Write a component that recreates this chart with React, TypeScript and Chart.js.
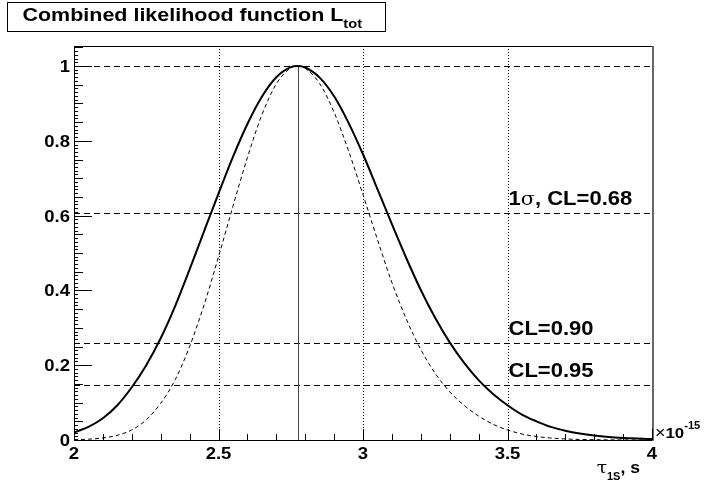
import React, { useEffect, useRef } from "react";
import { Chart, registerables } from "chart.js";

Chart.register(...registerables);

// ---- data ----
const tauValues = [
  2.0, 2.05, 2.1, 2.15, 2.2, 2.25, 2.3, 2.35, 2.4, 2.45, 2.5, 2.55, 2.6, 2.65, 2.7, 2.75,
  2.774,
  2.8, 2.85, 2.9, 2.95, 3.0, 3.05, 3.1, 3.15, 3.2, 3.25, 3.3, 3.35, 3.4, 3.45, 3.5, 3.55,
  3.6, 3.65, 3.7, 3.75, 3.8, 3.85, 3.9, 3.95, 4.0,
];
const combinedL = [
  0.02, 0.035, 0.058, 0.093, 0.141, 0.2, 0.272, 0.358, 0.456, 0.558, 0.659, 0.757, 0.845, 0.918, 0.97, 0.997,
  1.0,
  0.996, 0.969, 0.919, 0.848, 0.764, 0.671, 0.577, 0.486, 0.401, 0.326, 0.261, 0.206, 0.16, 0.123, 0.093, 0.068,
  0.05, 0.035, 0.025, 0.0175, 0.012, 0.0081, 0.0055, 0.0037, 0.0024,
];
const singleL = [
  0.001, 0.0022, 0.0055, 0.0126, 0.027, 0.054, 0.098, 0.161, 0.25, 0.361, 0.49, 0.625, 0.755, 0.869, 0.952, 0.995,
  1.0,
  0.994, 0.953, 0.876, 0.773, 0.656, 0.536, 0.421, 0.323, 0.242, 0.178, 0.129, 0.0925, 0.064, 0.042, 0.027, 0.016,
  0.0093, 0.0052, 0.0028, 0.0015, 0.0008, 0.0004, 0.0002, 0.0001, 0.00005,
];
const peakTau = 2.774;
const levelValues = [1.0, 0.6065, 0.2585, 0.1465];
const levelLabels = ["", "CL=0.68", "CL=0.90", "CL=0.95"];
const levelLabelX = 3.5;
const xTickValues = [2, 2.5, 3, 3.5, 4];
const xTickLabels = ["2", "2.5", "3", "3.5", "4"];
const yTickValues = [0, 0.2, 0.4, 0.6, 0.8, 1];
const yTickLabels = ["0", "0.2", "0.4", "0.6", "0.8", "1"];
const xGridValues = [2.5, 3, 3.5];
const titleText = "Combined likelihood function L";
const titleSub = "tot";

const FONT = "'Liberation Sans', Arial, Helvetica, sans-serif";
const SYM = "'DejaVu Serif', 'Liberation Serif', serif";

type Run = { text: string; font: string; dy?: number };

function drawRuns(
  ctx: CanvasRenderingContext2D,
  runs: Run[],
  x: number,
  y: number,
  align: "left" | "right" | "center",
  sx: number
) {
  ctx.save();
  let total = 0;
  const widths = runs.map((r) => {
    ctx.font = r.font;
    const w = ctx.measureText(r.text).width;
    total += w;
    return w;
  });
  const start = align === "left" ? x : align === "right" ? x - total * sx : x - (total * sx) / 2;
  ctx.translate(start, y);
  ctx.scale(sx, 1);
  ctx.textBaseline = "alphabetic";
  ctx.textAlign = "left";
  ctx.fillStyle = "#000";
  let cx = 0;
  runs.forEach((r, i) => {
    ctx.font = r.font;
    ctx.fillText(r.text, cx, r.dy || 0);
    cx += widths[i];
  });
  ctx.restore();
}

function drawFrameAndTicks(chart: any) {
  const ctx = chart.ctx as CanvasRenderingContext2D;
  const xs = chart.scales.x;
  const ys = chart.scales.y;
  const a = chart.chartArea;
  const L = Math.round(a.left);
  const B = Math.round(a.bottom);
  const R = Math.round(a.right);
  const T = Math.round(a.top);
  ctx.save();
  ctx.setTransform(1, 0, 0, 1, 0, 0);
  ctx.globalCompositeOperation = "source-over";
  ctx.globalAlpha = 1;
  ctx.fillStyle = "#000";
  ctx.fillRect(L, T, R - L, 1);
  ctx.fillRect(L, T, 1, B - T + 1);
  ctx.fillRect(L, B, R - L, 1);
  ctx.fillStyle = "#666";
  ctx.fillRect(R, T, 2, B - T + 1);
  ctx.fillStyle = "#000";
  for (let i = 0; i <= 105; i++) {
    const py = Math.round(ys.top + (ys.bottom - ys.top) * (1 - (i / 100) / ys.max));
    let len = 3;
    if (i % 20 === 0) len = 17;
    else if (i % 5 === 0) len = 8;
    ctx.fillRect(L + 1, py, len, 1);
  }
  for (let i = 0; i <= 20; i++) {
    const px = Math.round(xs.left + ((xs.right - xs.left) * i) / 20);
    const len = i % 5 === 0 ? 11 : 6;
    ctx.fillRect(px, B - len, 1, len);
  }
  ctx.restore();
}

const decorPlugin = {
  id: "rootDecor",
  beforeDraw(chart: any) {
    const ctx = chart.ctx as CanvasRenderingContext2D;
    ctx.save();
    ctx.fillStyle = "#fff";
    ctx.fillRect(0, 0, chart.width, chart.height);
    ctx.restore();
  },
  beforeDatasetsDraw(chart: any) {
    const ctx = chart.ctx as CanvasRenderingContext2D;
    const xs = chart.scales.x;
    const ys = chart.scales.y;
    const a = chart.chartArea;
    ctx.save();
    ctx.strokeStyle = "#000";
    ctx.lineWidth = 1;
    ctx.setLineDash([1, 2]);
    xGridValues.forEach((v) => {
      const px = Math.round(xs.getPixelForValue(v)) + 0.5;
      ctx.beginPath();
      ctx.moveTo(px, a.top);
      ctx.lineTo(px, a.bottom);
      ctx.stroke();
    });
    ctx.setLineDash([6, 4]);
    levelValues.forEach((v) => {
      const py = Math.round(ys.getPixelForValue(v)) + 0.5;
      ctx.beginPath();
      ctx.moveTo(a.left, py);
      ctx.lineTo(a.right, py);
      ctx.stroke();
    });
    ctx.setLineDash([]);
    ctx.strokeStyle = "#444";
    const pk = Math.round(xs.getPixelForValue(peakTau)) + 0.5;
    ctx.beginPath();
    ctx.moveTo(pk, ys.getPixelForValue(0));
    ctx.lineTo(pk, ys.getPixelForValue(1));
    ctx.stroke();
    ctx.restore();
    drawFrameAndTicks(chart);
  },
  afterDraw(chart: any) {
    const ctx = chart.ctx as CanvasRenderingContext2D;
    const xs = chart.scales.x;
    const ys = chart.scales.y;
    const a = chart.chartArea;

    drawFrameAndTicks(chart);

    yTickValues.forEach((v, i) => {
      drawRuns(ctx, [{ text: yTickLabels[i], font: `bold 16.5px ${FONT}` }], a.left - 4, ys.getPixelForValue(v) + 6, "right", 1.12);
    });
    xTickValues.forEach((v, i) => {
      drawRuns(ctx, [{ text: xTickLabels[i], font: `bold 16.5px ${FONT}` }], xs.getPixelForValue(v), a.bottom + 19, "center", 1.12);
    });
    drawRuns(
      ctx,
      [
        { text: "\u00d7", font: `16px ${FONT}` },
        { text: "10", font: `bold 15px ${FONT}` },
        { text: "-15", font: `bold 10px ${FONT}`, dy: -9 },
      ],
      a.right + 3,
      a.bottom - 2,
      "left",
      1.12
    );
    drawRuns(
      ctx,
      [
        { text: "\u03c4", font: `17px ${SYM}` },
        { text: "1S", font: `bold 10px ${FONT}`, dy: 7 },
        { text: ", s", font: `bold 16px ${FONT}` },
      ],
      640,
      473,
      "right",
      1.1
    );
    levelValues.forEach((v, i) => {
      if (!levelLabels[i]) return;
      const x0 = xs.getPixelForValue(levelLabelX) + 1;
      const y0 = ys.getPixelForValue(v) - 8;
      const runs: Run[] =
        i === 1
          ? [
              { text: "1", font: `bold 20px ${FONT}` },
              { text: "\u03c3", font: `19px ${SYM}` },
              { text: ", " + levelLabels[i], font: `bold 20px ${FONT}` },
            ]
          : [{ text: levelLabels[i], font: `bold 20px ${FONT}` }];
      drawRuns(ctx, runs, x0, y0, "left", 1.1);
    });
    ctx.save();
    ctx.fillStyle = "#fff";
    ctx.fillRect(7, 2, 379, 30);
    ctx.fillStyle = "#000";
    ctx.fillRect(7, 2, 379, 1);
    ctx.fillRect(7, 31, 379, 1);
    ctx.fillRect(7, 2, 1, 30);
    ctx.fillRect(385, 2, 1, 30);
    ctx.restore();
    drawRuns(
      ctx,
      [
        { text: titleText, font: `bold 19px ${FONT}` },
        { text: titleSub, font: `bold 13px ${FONT}`, dy: 7.5 },
      ],
      22.5,
      20.7,
      "left",
      1.13
    );
  },
};

export default function App() {
  const ref = useRef<HTMLCanvasElement | null>(null);
  useEffect(() => {
    if (!ref.current) return;
    const chart = new Chart(ref.current, {
      type: "line",
      data: {
        datasets: [
          {
            data: tauValues.map((t, i) => ({ x: t, y: combinedL[i] })),
            borderColor: "#000",
            borderWidth: 2,
            pointRadius: 0,
            fill: false,
            cubicInterpolationMode: "monotone",
          },
          {
            data: tauValues.map((t, i) => ({ x: t, y: singleL[i] })),
            borderColor: "#000",
            borderWidth: 1,
            borderDash: [4, 3],
            pointRadius: 0,
            fill: false,
            cubicInterpolationMode: "monotone",
          },
        ],
      },
      options: {
        responsive: false,
        animation: false,
        events: [],
        layout: { padding: { left: 0, top: 46, right: 52, bottom: 0 } },
        plugins: { legend: { display: false }, tooltip: { enabled: false }, title: { display: false } },
        scales: {
          x: {
            type: "linear",
            min: 2,
            max: 4,
            grid: { display: false },
            border: { display: false },
            ticks: { display: false },
            afterFit: (s: any) => {
              s.height = 44;
            },
          },
          y: {
            type: "linear",
            min: 0,
            max: 394 / 374,
            grid: { display: false },
            border: { display: false },
            ticks: { display: false },
            afterFit: (s: any) => {
              s.width = 74;
            },
          },
        },
      },
      plugins: [decorPlugin],
    } as any);
    return () => chart.destroy();
  }, []);
  return (
    <div style={{ position: "absolute", left: 0, top: 0, width: 704, height: 484, background: "#fff" }}>
      <canvas ref={ref} width={704} height={484} style={{ display: "block", width: 704, height: 484 }} />
    </div>
  );
}
